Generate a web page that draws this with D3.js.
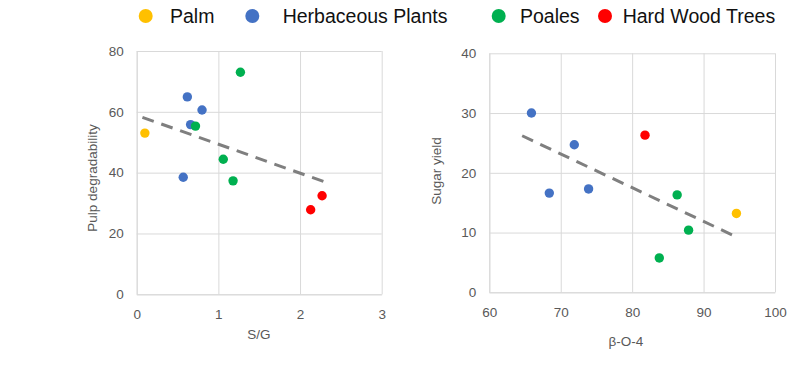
<!DOCTYPE html>
<html>
<head>
<meta charset="utf-8">
<script src="https://cdnjs.cloudflare.com/ajax/libs/d3/7.8.5/d3.min.js"></script>
<style>
    body { margin: 0; background: #fff; }
    svg { display: block; font-family: "Liberation Sans", Arial, sans-serif; }
    .axis text { fill: #595959; font-size: 13.5px; }
    .axis line, .axis path { stroke: #d9d9d9; stroke-width: 1; }
    .axis-title { fill: #595959; font-size: 13.5px; }
    .legend text { fill: #111; font-size: 19.5px; }
</style>
</head>
<body>
<div id="chart"></div>
<script>
// categories
const groups = ["Palm", "Herbaceous Plants", "Poales", "Hard Wood Trees"];
const groupColors = ["#ffc000", "#4472c4", "#00b050", "#ff0000"];

// left panel: S/G vs pulp degradability
const sgValues   = [0.10, 0.62, 0.80, 0.66, 0.57, 1.27, 0.72, 1.06, 1.18, 2.27, 2.13];
const pulpValues = [53.0, 64.9, 60.6, 55.8, 38.5, 73.0, 55.3, 44.4, 37.3, 32.4, 27.8];
const sgGroups   = [0, 1, 1, 1, 1, 2, 2, 2, 2, 3, 3];
const sgTrendX   = [0.07, 2.33];
const pulpTrendY = [58.2, 36.7];
const sgTicks    = [0, 1, 2, 3];
const pulpTicks  = [0, 20, 40, 60, 80];

// right panel: beta-O-4 vs sugar yield
const boValues    = [94.6, 65.9, 71.9, 68.4, 73.9, 86.3, 87.9, 83.8, 81.8];
const sugarValues = [13.2, 30.0, 24.7, 16.6, 17.3, 16.3, 10.4, 5.75, 26.3];
const boGroups    = [0, 1, 1, 1, 1, 2, 2, 2, 3];
const boTrendX    = [64.6, 94.2];
const sugarTrendY = [26.2, 9.5];
const boTicks     = [60, 70, 80, 90, 100];
const sugarTicks  = [0, 10, 20, 30, 40];

const svg = d3.select("#chart").append("svg")
    .attr("width", 800)
    .attr("height", 384);

class ScatterPlot {

    constructor(_svg, _opts) {
        this.svg = _svg;
        this.opts = _opts;
        this.initVis();
    }

    initVis() {
        let vis = this;
        let o = vis.opts;

        vis.width = o.right - o.left;
        vis.height = o.bottom - o.top;

        vis.g = vis.svg.append("g")
            .attr("transform", "translate(" + o.left + "," + o.top + ")");

        vis.x = d3.scaleLinear()
            .domain(d3.extent(o.xTicks))
            .range([0, vis.width]);

        vis.y = d3.scaleLinear()
            .domain(d3.extent(o.yTicks))
            .range([vis.height, 0]);

        // gridlines + tick labels
        vis.g.append("g")
            .attr("class", "y-axis axis")
            .call(d3.axisLeft(vis.y).tickValues(o.yTicks).tickFormat(d3.format("d"))
                .tickSize(-vis.width).tickSizeOuter(0).tickPadding(13));

        vis.g.append("g")
            .attr("class", "x-axis axis")
            .attr("transform", "translate(0," + vis.height + ")")
            .call(d3.axisBottom(vis.x).tickValues(o.xTicks).tickFormat(d3.format("d"))
                .tickSize(-vis.height).tickSizeOuter(0).tickPadding(15));

        vis.g.selectAll(".axis text").attr("font-family", null).attr("font-size", null);

        // axis titles
        vis.svg.append("text")
            .attr("class", "axis-title")
            .attr("x", o.xTitlePos[0])
            .attr("y", o.xTitlePos[1])
            .attr("text-anchor", "middle")
            .text(o.xTitle);

        vis.svg.append("text")
            .attr("class", "axis-title")
            .attr("transform", "translate(" + o.yTitlePos[0] + "," + o.yTitlePos[1] + ") rotate(-90)")
            .attr("text-anchor", "middle")
            .text(o.yTitle);

        vis.updateVis();
    }

    updateVis() {
        let vis = this;
        let o = vis.opts;

        // dashed trendline
        let trend = o.trendX.map((d, i) => [d, o.trendY[i]]);
        vis.g.append("path")
            .datum(trend)
            .attr("fill", "none")
            .attr("stroke", "#7f7f7f")
            .attr("stroke-width", 3)
            .attr("stroke-dasharray", "12,8")
            .attr("d", d3.line().x(d => vis.x(d[0])).y(d => vis.y(d[1])));

        let pts = o.xs.map((d, i) => ({x: d, y: o.ys[i], g: o.groups[i]}));

        vis.g.selectAll(".dot")
            .data(pts)
            .enter().append("circle")
            .attr("class", "dot")
            .attr("r", 4.7)
            .attr("cx", d => vis.x(d.x))
            .attr("cy", d => vis.y(d.y))
            .attr("fill", d => groupColors[d.g]);
    }
}

new ScatterPlot(svg, {
    left: 136.7, right: 381.7, top: 51, bottom: 294.3,
    xs: sgValues, ys: pulpValues, groups: sgGroups,
    trendX: sgTrendX, trendY: pulpTrendY,
    xTicks: sgTicks, yTicks: pulpTicks,
    xTitle: "S/G", xTitlePos: [259, 339],
    yTitle: "Pulp degradability", yTitlePos: [97, 178]
});

new ScatterPlot(svg, {
    left: 489.3, right: 775, top: 53.3, bottom: 292.3,
    xs: boValues, ys: sugarValues, groups: boGroups,
    trendX: boTrendX, trendY: sugarTrendY,
    xTicks: boTicks, yTicks: sugarTicks,
    xTitle: "β-O-4", xTitlePos: [626, 346],
    yTitle: "Sugar yield", yTitlePos: [441, 171]
});

// legend across the top
const legendDotX = [145.7, 252.3, 498.7, 605];
const legend = svg.append("g").attr("class", "legend");

groups.forEach((name, i) => {
    legend.append("circle")
        .attr("cx", legendDotX[i])
        .attr("cy", 16)
        .attr("r", 7)
        .attr("fill", groupColors[i]);
    legend.append("text")
        .attr("x", legendDotX[i] + (i == 3 ? 17.7 : i == 2 ? 21.3 : i == 1 ? 30.4 : 24.3))
        .attr("y", 23)
        .text(name);
});
</script>
</body>
</html>
